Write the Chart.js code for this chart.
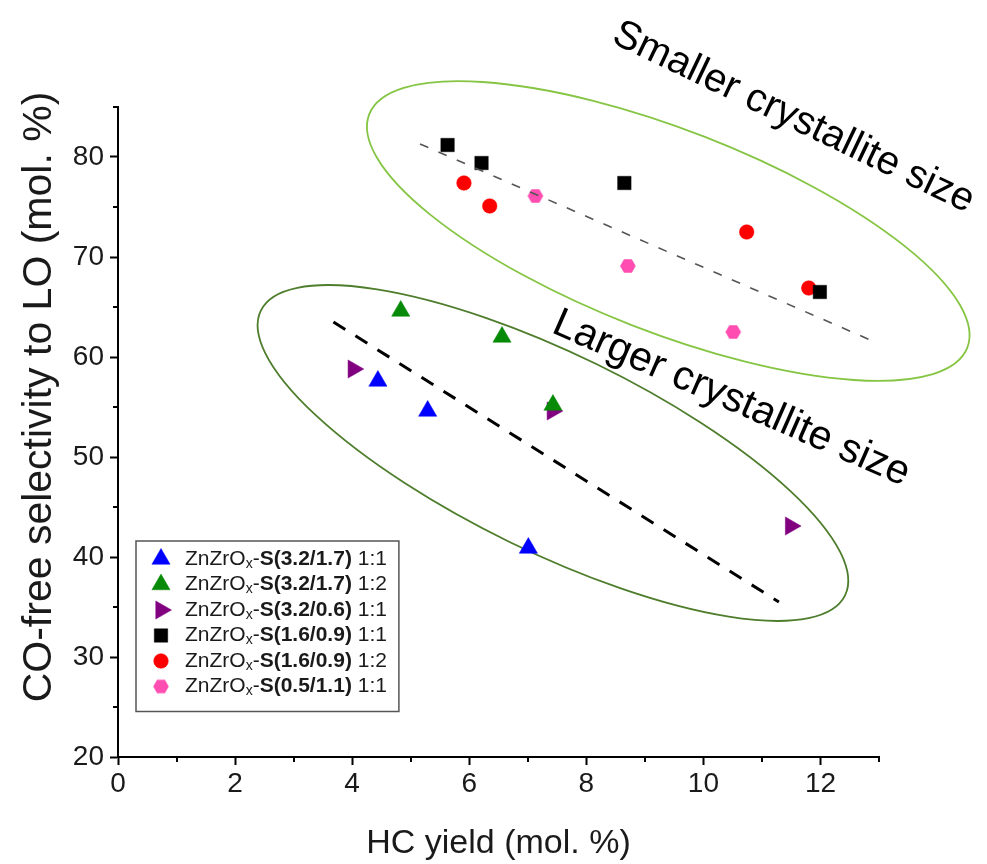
<!DOCTYPE html>
<html>
<head>
<meta charset="utf-8">
<script src="https://cdn.jsdelivr.net/npm/chart.js@4.4.1/dist/chart.umd.min.js"></script>
<style>
  html, body { margin: 0; padding: 0; background: #ffffff; }
  #wrap { width: 987px; height: 864px; }
</style>
</head>
<body>
<div id="wrap"><canvas id="c" width="987" height="864"></canvas></div>
<script>
// ---- axis ticks ----
const xTickValues = [0, 2, 4, 6, 8, 10, 12];
const yTickValues = [20, 30, 40, 50, 60, 70, 80];
const xMinorTicks = [1, 3, 5, 7, 9, 11, 13];
const yMinorTicks = [25, 35, 45, 55, 65, 75, 85];

// ---- sample labels: ZnZrOx-S(code) ratio ----
const sampleCodes = ['3.2/1.7', '3.2/1.7', '3.2/0.6', '1.6/0.9', '1.6/0.9', '0.5/1.1'];
const znRatios = ['1:1', '1:2', '1:1', '1:1', '1:2', '1:1'];

// ---- HC yield (x) vs CO-free selectivity to LO (y), mol. % ----
const blueX = [4.44, 5.29, 7.01];
const blueY = [57.6, 54.6, 40.9];
const greenX = [4.83, 6.56, 7.43];
const greenY = [64.6, 62.0, 55.2];
const purpleX = [4.02, 7.42, 11.49];
const purpleY = [58.8, 54.6, 43.1];
const blackX = [5.63, 6.21, 8.65, 11.99];
const blackY = [81.2, 79.4, 77.4, 66.5];
const redX = [5.91, 6.35, 10.74, 11.80];
const redY = [77.4, 75.1, 72.5, 66.9];
const pinkX = [7.13, 8.71, 10.51];
const pinkY = [76.1, 69.1, 62.5];

// ---- trend lines (end points) ----
const smallFitX = [5.16, 12.97];
const smallFitY = [81.3, 61.4];
const largeFitX = [3.68, 11.29];
const largeFitY = [63.5, 35.5];

const pts = (xs, ys) => xs.map((x, i) => ({ x: x, y: ys[i] }));

// hexagon marker drawn once onto a small canvas
function hexMarker(r, color) {
  const c = document.createElement('canvas');
  const s = Math.ceil(2 * r + 2);
  c.width = s; c.height = s;
  const g = c.getContext('2d');
  g.fillStyle = color;
  g.beginPath();
  for (let k = 0; k < 6; k++) {
    const a = Math.PI / 3 * k;
    const px = s / 2 + r * Math.cos(a), py = s / 2 + r * Math.sin(a);
    if (k === 0) g.moveTo(px, py); else g.lineTo(px, py);
  }
  g.closePath();
  g.fill();
  return c;
}

const FONT = "'Liberation Sans', Arial, sans-serif";
const TEXT = '#1a1a1a';

function markerSet(i, xs, ys, color, style, radius, rotation) {
  return {
    label: 'ZnZrOx-S(' + sampleCodes[i] + ') ' + znRatios[i],
    code: sampleCodes[i],
    ratio: znRatios[i],
    data: pts(xs, ys),
    pointStyle: style,
    rotation: rotation || 0,
    pointRadius: radius,
    pointHoverRadius: radius,
    backgroundColor: color,
    borderColor: color,
    pointBorderWidth: 0.5,
    showLine: false,
    order: 1
  };
}

function fitLine(xs, ys, color, width, dash) {
  return {
    type: 'line',
    data: pts(xs, ys),
    borderColor: color,
    borderWidth: width,
    borderDash: dash,
    pointRadius: 0,
    fill: false,
    tension: 0,
    showLine: true,
    order: -1
  };
}

// ellipses around the two groups: centre in data units, semi-axes in px
const groupRings = [
  { cx: 9.40, cy: 72.6, rx: 321, ry: 101, angle: 21.3, color: '#85c543', width: 1.8 },
  { cx: 7.43, cy: 50.4, rx: 325, ry: 99, angle: 26.0, color: '#4e7d2c', width: 1.8 }
];

// rotated captions: baseline start in data units
const captions = [
  { text: 'Smaller crystallite size', x: 8.41, y: 91.5, angle: 25.6, size: 40 },
  { text: 'Larger crystallite size', x: 7.385, y: 62.5, angle: 23.6, size: 41 }
];

const ringsPlugin = {
  id: 'rings',
  beforeDatasetsDraw(chart) {
    const { ctx, scales: { x, y } } = chart;
    ctx.save();
    groupRings.forEach(r => {
      ctx.beginPath();
      ctx.ellipse(x.getPixelForValue(r.cx), y.getPixelForValue(r.cy), r.rx, r.ry,
        r.angle * Math.PI / 180, 0, Math.PI * 2);
      ctx.strokeStyle = r.color;
      ctx.lineWidth = r.width;
      ctx.stroke();
    });
    ctx.restore();
  }
};

const minorTicksPlugin = {
  id: 'minorTicks',
  afterDraw(chart) {
    const { ctx, scales: { x, y } } = chart;
    ctx.save();
    ctx.strokeStyle = '#000';
    ctx.lineWidth = 2;
    ctx.beginPath();
    xMinorTicks.forEach(v => {
      const px = Math.round(x.getPixelForValue(v));
      ctx.moveTo(px, y.bottom);
      ctx.lineTo(px, y.bottom + 5);
    });
    yMinorTicks.forEach(v => {
      const py = Math.round(y.getPixelForValue(v));
      ctx.moveTo(x.left, py);
      ctx.lineTo(x.left - 5, py);
    });
    ctx.stroke();
    ctx.restore();
  }
};

const yTitle = 'CO-free selectivity to LO (mol. %)';
const textPlugin = {
  id: 'texts',
  afterDraw(chart) {
    const { ctx, scales: { x, y } } = chart;
    ctx.save();
    ctx.fillStyle = TEXT;
    // y-axis title
    ctx.save();
    ctx.translate(40, 397);
    ctx.rotate(-Math.PI / 2);
    ctx.font = '41px ' + FONT;
    ctx.textAlign = 'center';
    ctx.textBaseline = 'middle';
    ctx.fillText(yTitle, 0, 0);
    ctx.restore();
    // captions
    captions.forEach(c => {
      ctx.save();
      ctx.translate(x.getPixelForValue(c.x), y.getPixelForValue(c.y));
      ctx.rotate(c.angle * Math.PI / 180);
      ctx.font = c.size + 'px ' + FONT;
      ctx.fillStyle = '#000';
      ctx.textAlign = 'left';
      ctx.textBaseline = 'alphabetic';
      ctx.fillText(c.text, 0, 0);
      ctx.restore();
    });
    ctx.restore();
  }
};

// legend with subscript and bold sample code
const legendBox = { left: 136, top: 541, row: 25.5, firstRow: 18, textX: 49, size: 21 };
const legendPlugin = {
  id: 'richLegend',
  afterDraw(chart) {
    const { ctx } = chart;
    const sets = chart.data.datasets.filter(d => d.code);
    const L = legendBox;
    const reg = L.size + 'px ' + FONT;
    const bold = 'bold ' + L.size + 'px ' + FONT;
    const sub = Math.round(L.size * 0.68) + 'px ' + FONT;
    const parts = d => [
      { t: 'ZnZrO', f: reg, dy: 0 },
      { t: 'x', f: sub, dy: 5 },
      { t: '-', f: reg, dy: 0 },
      { t: 'S(' + d.code + ')', f: bold, dy: 0 },
      { t: ' ' + d.ratio, f: reg, dy: 0 }
    ];
    ctx.save();
    let maxW = 0;
    sets.forEach(d => {
      let w = 0;
      parts(d).forEach(p => { ctx.font = p.f; w += ctx.measureText(p.t).width; });
      maxW = Math.max(maxW, w);
    });
    const boxW = L.textX + maxW + 12;
    const boxH = L.firstRow + L.row * (sets.length - 1) + 25;
    ctx.fillStyle = '#fff';
    ctx.fillRect(L.left, L.top, boxW, boxH);
    ctx.strokeStyle = '#555';
    ctx.lineWidth = 1.5;
    ctx.strokeRect(L.left, L.top, boxW, boxH);
    sets.forEach((d, i) => {
      const cy = L.top + L.firstRow + i * L.row;
      ctx.fillStyle = d.backgroundColor;
      ctx.strokeStyle = d.borderColor;
      ctx.lineWidth = 0.5;
      Chart.helpers.drawPoint(ctx, {
        pointStyle: d.pointStyle, rotation: d.rotation, radius: d.pointRadius, borderWidth: 0.5
      }, L.left + 25, cy);
      let tx = L.left + L.textX;
      ctx.fillStyle = TEXT;
      ctx.textBaseline = 'middle';
      ctx.textAlign = 'left';
      parts(d).forEach(p => {
        ctx.font = p.f;
        ctx.fillText(p.t, tx, cy + p.dy);
        tx += ctx.measureText(p.t).width;
      });
    });
    ctx.restore();
  }
};

const axisCommon = {
  grid: { drawOnChartArea: false, drawTicks: true, tickLength: 8, tickWidth: 2, tickColor: '#000' },
  border: { display: true, color: '#000', width: 2 }
};

new Chart(document.getElementById('c'), {
  type: 'scatter',
  data: {
    datasets: [
      markerSet(0, blueX, blueY, '#0000ff', 'triangle', 10.5, 0),
      markerSet(1, greenX, greenY, '#078a07', 'triangle', 10.5, 0),
      markerSet(2, purpleX, purpleY, '#800080', 'triangle', 10.5, 90),
      markerSet(3, blackX, blackY, '#000000', 'rect', 9.5, 0),
      markerSet(4, redX, redY, '#ff0000', 'circle', 7.3, 0),
      markerSet(5, pinkX, pinkY, '#ff4db2', hexMarker(7.8, '#ff4db2'), 7.8, 0),
      fitLine(smallFitX, smallFitY, '#555555', 1.6, [9, 11]),
      fitLine(largeFitX, largeFitY, '#000000', 3, [14, 12])
    ]
  },
  options: {
    responsive: false,
    animation: false,
    devicePixelRatio: 1,
    layout: { padding: { top: 107, right: 108, bottom: 0, left: 0 } },
    plugins: { legend: { display: false }, tooltip: { enabled: false } },
    scales: {
      x: Object.assign({}, axisCommon, {
        type: 'linear', min: 0, max: 13,
        afterBuildTicks: s => { s.ticks = xTickValues.map(v => ({ value: v })); },
        afterFit: s => { s.height = 107; },
        ticks: { color: TEXT, font: { family: FONT, size: 28 }, padding: 2, maxRotation: 0 },
        title: { display: true, text: 'HC yield (mol. %)', color: TEXT,
          font: { family: FONT, size: 34 }, padding: { top: 0, bottom: 0 } }
      }),
      y: Object.assign({}, axisCommon, {
        type: 'linear', min: 20, max: 85,
        afterBuildTicks: s => { s.ticks = yTickValues.map(v => ({ value: v })); },
        afterFit: s => { s.width = 118; },
        ticks: { color: TEXT, font: { family: FONT, size: 28 }, padding: 6 }
      })
    }
  },
  plugins: [ringsPlugin, minorTicksPlugin, textPlugin, legendPlugin]
});
</script>
</body>
</html>
